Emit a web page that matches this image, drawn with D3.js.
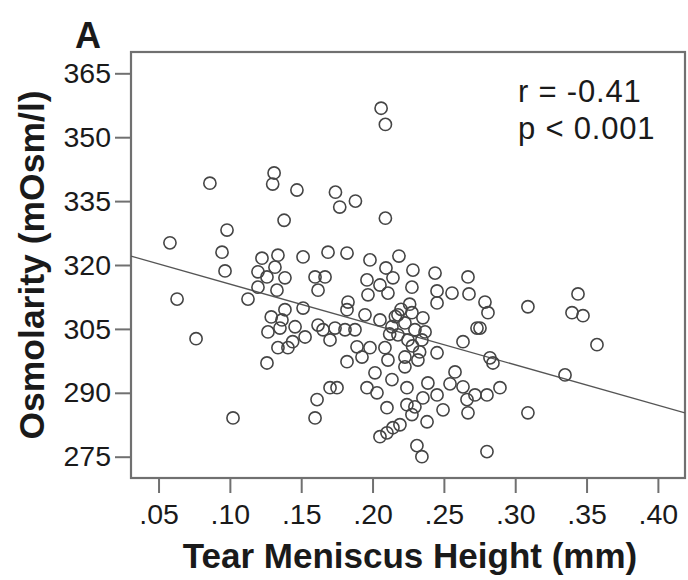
<!DOCTYPE html>
<html>
<head>
<meta charset="utf-8">
<script src="https://cdn.jsdelivr.net/npm/d3@7/dist/d3.min.js"></script>
<style>
  html, body { margin: 0; padding: 0; background: #fff; }
  svg { display: block; }
  text { font-family: "Liberation Sans", Arial, Helvetica, sans-serif; fill: #1a1a1a; }
</style>
</head>
<body>
<svg id="chart" width="688" height="580"></svg>
<script>
// Tear meniscus height (mm)
const tmh = [
  0.206, 0.209, 0.086, 0.131, 0.130, 0.147, 0.174, 0.177, 0.188, 0.209,
  0.098, 0.138, 0.058, 0.0945, 0.0966, 0.063, 0.1127, 0.0763, 0.1022,
  0.1225, 0.1337, 0.1513, 0.1688, 0.1821, 0.1197, 0.1316, 0.1386, 0.126, 0.1197,
  0.133, 0.1597, 0.1667, 0.1618, 0.1386, 0.1513, 0.1828, 0.1821, 0.1365, 0.1267,
  0.1351, 0.1457, 0.1527, 0.1618, 0.1653, 0.1737, 0.1807, 0.1337, 0.1407, 0.126,
  0.1982, 0.2185, 0.2094, 0.2283, 0.2438, 0.2669, 0.1961, 0.2052, 0.2143, 0.1968,
  0.2276, 0.2452, 0.2557, 0.2676, 0.2788, 0.2809, 0.2452, 0.2108, 0.1947, 0.2052,
  0.2178, 0.2276, 0.2353, 0.2732, 0.2136, 0.2227, 0.2297, 0.2368, 0.2178, 0.2248,
  0.2346, 0.1877, 0.1982, 0.2087, 0.2108, 0.2227, 0.2318, 0.2227, 0.2452, 0.2634,
  0.2578, 0.1926, 0.3089, 0.344, 0.3398, 0.3475, 0.2753, 0.3573, 0.2823, 0.2844,
  0.3349, 0.2893, 0.2802, 0.3089, 0.2802, 0.1702, 0.1821, 0.1891, 0.2017, 0.2136,
  0.1961, 0.2031, 0.1702, 0.1751, 0.1611, 0.1597, 0.2241, 0.2388, 0.2452, 0.2353,
  0.2241, 0.2297, 0.2494, 0.2382, 0.2543, 0.2634, 0.2662, 0.2669, 0.2101, 0.2052,
  0.2101, 0.2143, 0.2192, 0.2311, 0.2346, 0.2276, 0.2718,
  0.2160, 0.2280, 0.2200, 0.2330, 0.2120, 0.2260, 0.1440, 0.1290
];
// Osmolarity (mOsm/l)
const osm = [
  356.8, 353.0, 339.2, 341.6, 339.0, 337.6, 337.1, 333.6, 335.0, 331.0,
  328.2, 330.5, 325.2, 323.0, 318.6, 312.0, 312.0, 302.7, 284.1,
  321.6, 322.3, 321.9, 323.0, 322.8, 318.4, 319.5, 317.0, 317.2, 314.8,
  314.1, 317.2, 317.2, 314.1, 309.5, 309.9, 311.3, 309.5, 307.1, 304.3,
  305.2, 305.5, 303.1, 305.9, 304.8, 305.2, 304.8, 300.6, 300.6, 297.0,
  321.2, 322.1, 319.3, 318.8, 318.1, 317.2, 316.5, 315.3, 317.0, 313.0,
  314.8, 313.9, 313.4, 313.2, 311.3, 308.8, 311.1, 313.4, 308.3, 307.1,
  308.3, 308.8, 307.6, 305.2, 305.5, 306.4, 304.8, 304.3, 303.6, 302.4,
  302.4, 304.8, 300.6, 300.6, 297.7, 298.4, 297.7, 296.1, 299.4, 302.0,
  294.9, 298.4, 310.2, 313.2, 308.8, 308.1, 305.2, 301.3, 298.2, 297.0,
  294.2, 291.2, 289.5, 285.3, 276.2, 302.4, 297.3, 300.8, 294.7, 293.1,
  291.2, 290.0, 291.2, 291.2, 288.4, 284.1, 291.2, 292.3, 289.5, 288.8,
  287.2, 286.7, 286.0, 283.2, 292.1, 291.4, 288.4, 285.3, 286.5, 279.7,
  280.6, 281.8, 282.5, 277.6, 275.0, 284.9, 289.5,
  307.9, 301.0, 309.6, 299.6, 303.8, 310.8, 302.0, 307.8
];
// Linear fit: intercept, slope
const fitCoef = [325.0, -94.8];
const xTicks = [0.05, 0.10, 0.15, 0.20, 0.25, 0.30, 0.35, 0.40];
const yTicks = [275, 290, 305, 320, 335, 350, 365];
const xDomain = [0.0307, 0.419];
const yDomain = [270, 370];
const statLines = ["r = -0.41", "p < 0.001"];
const panelLabel = "A";
const xTitle = "Tear Meniscus Height (mm)";
const yTitle = "Osmolarity (mOsm/l)";

const svg = d3.select("#chart");
const m = { left: 131, top: 52, right: 3, bottom: 102 };
const W = 688 - m.left - m.right, H = 580 - m.top - m.bottom;
const g = svg.append("g").attr("transform", `translate(${m.left},${m.top})`);

const x = d3.scaleLinear().domain(xDomain).range([0, W]);
const y = d3.scaleLinear().domain(yDomain).range([H, 0]);

const frameColor = "#707070";

// x axis
const fmtX = d => d3.format(".2f")(d).replace(/^0/, "");
const xAxis = g.append("g").attr("transform", `translate(0,${H})`)
  .call(d3.axisBottom(x).tickValues(xTicks).tickFormat(fmtX).tickSize(15).tickPadding(11));
xAxis.select(".domain").remove();
xAxis.selectAll("line").attr("stroke", frameColor).attr("stroke-width", 2);
xAxis.selectAll("text").attr("font-size", 28.5).attr("fill", "#1a1a1a")
  .attr("font-family", "Liberation Sans, Arial, sans-serif");

// y axis
const yAxis = g.append("g")
  .call(d3.axisLeft(y).tickValues(yTicks).tickSize(16).tickPadding(4));
yAxis.select(".domain").remove();
yAxis.selectAll("line").attr("stroke", frameColor).attr("stroke-width", 2);
yAxis.selectAll("text").attr("font-size", 28.5).attr("fill", "#1a1a1a")
  .attr("font-family", "Liberation Sans, Arial, sans-serif");

// frame
g.append("rect").attr("x", 0).attr("y", 0).attr("width", W).attr("height", H)
  .attr("fill", "none").attr("stroke", frameColor).attr("stroke-width", 2.2);

// fit line
svg.append("defs").append("clipPath").attr("id", "plotclip")
  .append("rect").attr("width", W).attr("height", H);
g.append("line")
  .attr("clip-path", "url(#plotclip)")
  .attr("x1", x(xDomain[0])).attr("y1", y(fitCoef[0] + fitCoef[1] * xDomain[0]))
  .attr("x2", x(xDomain[1])).attr("y2", y(fitCoef[0] + fitCoef[1] * xDomain[1]))
  .attr("stroke", "#555").attr("stroke-width", 1.4);

// points
const pts = tmh.map((v, i) => ({ x: v, y: osm[i] }));
g.append("g").selectAll("circle").data(pts).join("circle")
  .attr("cx", d => x(d.x)).attr("cy", d => y(d.y)).attr("r", 6.1)
  .attr("fill", "none").attr("stroke", "#454545").attr("stroke-width", 1.6);

// stats text
g.append("g").selectAll("text").data(statLines).join("text")
  .attr("x", 387).attr("y", (d, i) => 50 + i * 37)
  .attr("font-size", 31).attr("letter-spacing", 0.8).text(d => d);

// panel label
svg.append("text").attr("x", 75).attr("y", 48).attr("font-size", 36)
  .attr("font-weight", "bold").text(panelLabel);

// axis titles
svg.append("text").attr("x", m.left + W / 2 + 2).attr("y", 568)
  .attr("text-anchor", "middle").attr("font-size", 35).attr("font-weight", "bold")
  .text(xTitle);
svg.append("text").attr("transform", `translate(44,${m.top + H / 2}) rotate(-90)`)
  .attr("text-anchor", "middle").attr("font-size", 35.5).attr("font-weight", "bold")
  .text(yTitle);
</script>
</body>
</html>
